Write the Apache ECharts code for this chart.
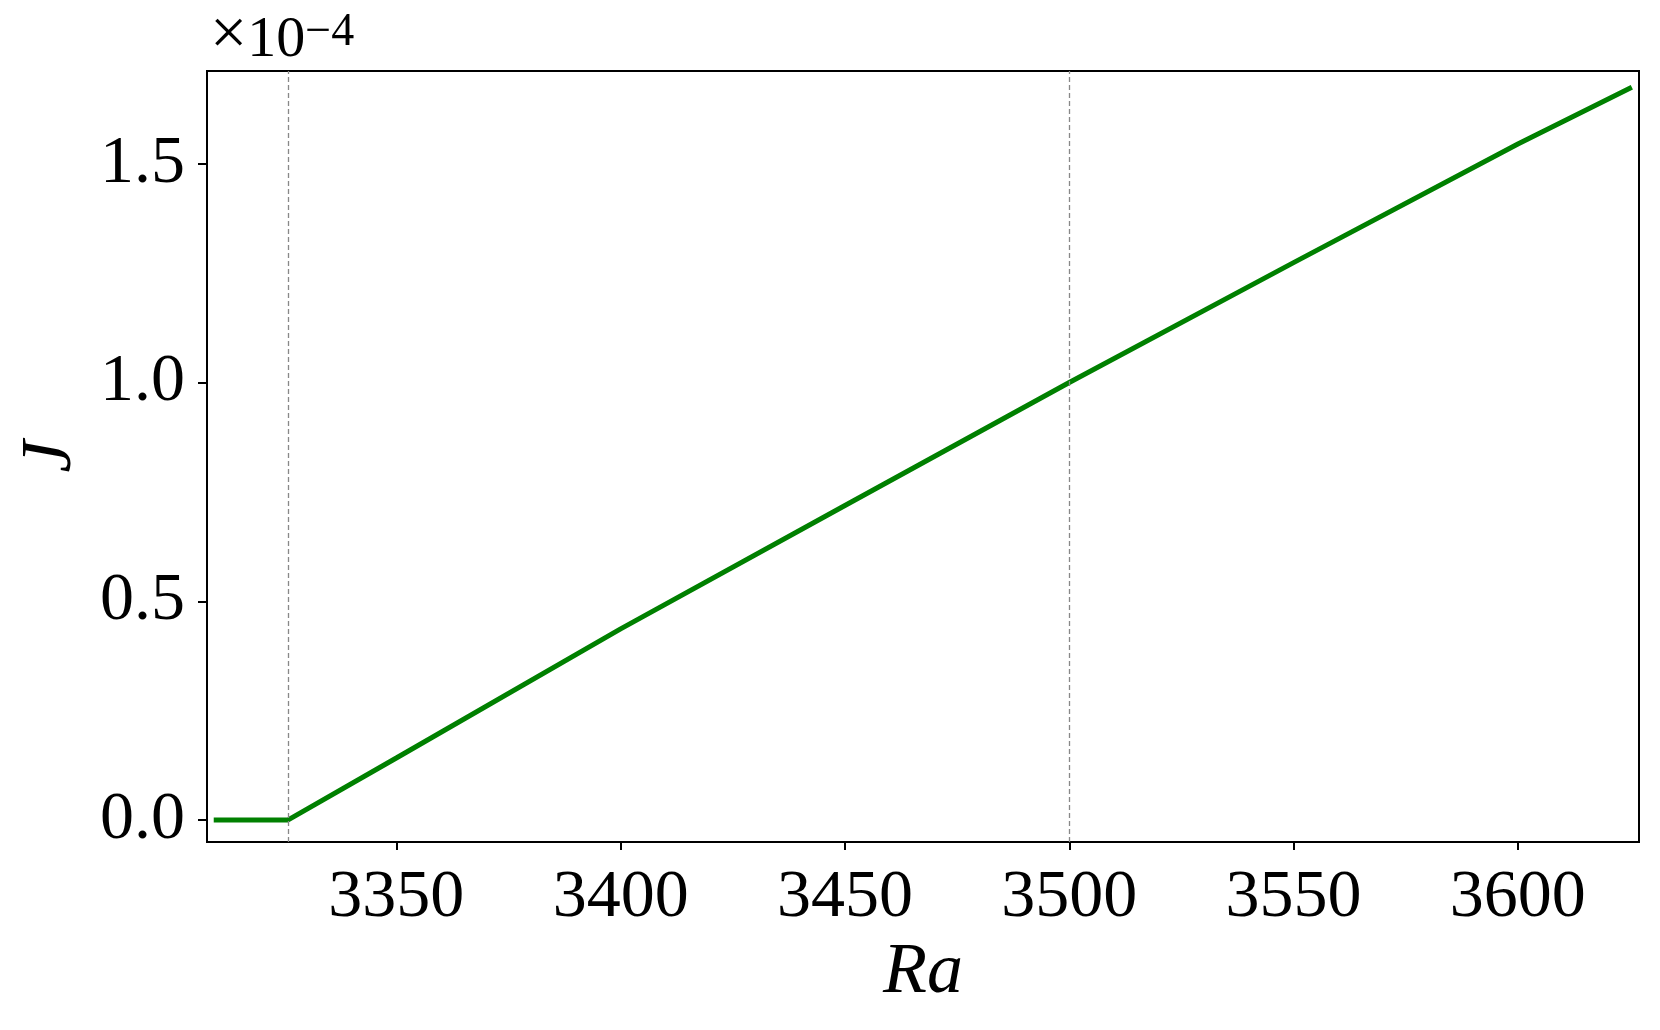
<!DOCTYPE html>
<html>
<head>
<meta charset="utf-8">
<script src="https://cdn.jsdelivr.net/npm/echarts@6/dist/echarts.min.js"></script>
<style>
  html, body { margin: 0; padding: 0; background: #fff; }
  #chart { width: 1660px; height: 1030px; }
</style>
</head>
<body>
<div id="chart"></div>
<script>
// Ra values and J (in units of 1e-4)
const ra = [3309.3, 3325.8, 3350, 3400, 3450, 3500, 3550, 3600, 3625.4]
const jVals = [0, 0, 0.142, 0.437, 0.719, 1.000, 1.274, 1.545, 1.675]
const xTicks = [3350, 3400, 3450, 3500, 3550, 3600]
const yTicks = [0, 0.5, 1.0, 1.5]
const vLines = [3325.8, 3500]

const serif = '"Liberation Serif", "DejaVu Serif", serif'
const chart = echarts.init(document.getElementById('chart'))

chart.setOption({
  animation: false,
  backgroundColor: '#fff',
  grid: {
    left: 207, top: 71, right: 21, bottom: 188,
    show: true, borderColor: '#000', borderWidth: 2,
    containLabel: false,
    outerBoundsMode: 'none'
  },
  graphic: [{
    type: 'text',
    left: 210, top: 4,
    style: {
      text: '{c|×}{a|10}{b|−4}',
      rich: {
        c: { fontFamily: serif, fontSize: 66, fill: '#000', verticalAlign: 'bottom', lineHeight: 60 },
        a: { fontFamily: serif, fontSize: 58, fill: '#000', verticalAlign: 'bottom', lineHeight: 60 },
        b: { fontFamily: serif, fontSize: 46, fill: '#000', verticalAlign: 'top', padding: [0, 0, 24, 0], lineHeight: 46 }
      }
    }
  }],
  xAxis: {
    type: 'value',
    min: 3307.8, max: 3627,
    name: 'Ra',
    nameLocation: 'middle',
    nameGap: 94,
    nameTextStyle: { fontFamily: serif, fontStyle: 'italic', fontSize: 72, color: '#000' },
    splitLine: { show: false },
    axisLine: { show: true, onZero: false, lineStyle: { color: '#000', width: 2 } },
    axisTick: { show: true, inside: false, length: 8, lineStyle: { color: '#000', width: 2 }, customValues: xTicks },
    axisLabel: {
      customValues: xTicks,
      formatter: v => String(v),
      fontFamily: serif, fontSize: 68, color: '#000', margin: 22
    }
  },
  yAxis: {
    type: 'value',
    min: -0.05, max: 1.712,
    name: 'J',
    nameLocation: 'middle',
    nameGap: 120,
    nameRotate: 90,
    nameTextStyle: { fontFamily: serif, fontStyle: 'italic', fontSize: 72, color: '#000' },
    splitLine: { show: false },
    axisLine: { show: true, onZero: false, lineStyle: { color: '#000', width: 2 } },
    axisTick: { show: true, inside: false, length: 9, lineStyle: { color: '#000', width: 2 }, customValues: yTicks },
    axisLabel: {
      customValues: yTicks,
      formatter: v => v.toFixed(1),
      fontFamily: serif, fontSize: 68, color: '#000', margin: 22
    }
  },
  series: [{
    type: 'line',
    data: ra.map((x, i) => [x, jVals[i]]),
    showSymbol: false,
    lineStyle: { color: '#008000', width: 5 },
    markLine: {
      silent: true,
      symbol: 'none',
      label: { show: false },
      lineStyle: { color: '#888', type: [5, 3], width: 1.3 },
      data: vLines.map(v => ({ xAxis: v }))
    }
  }]
})
</script>
</body>
</html>
